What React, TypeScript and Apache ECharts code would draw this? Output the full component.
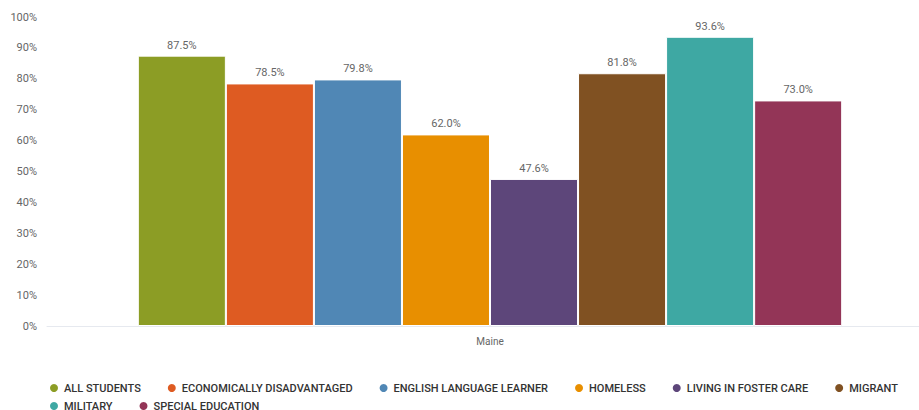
import React, { useEffect, useRef } from "react";
import * as echarts from "echarts";

const categories = ["Maine"];
const seriesNames = [
  "ALL STUDENTS",
  "ECONOMICALLY DISADVANTAGED",
  "ENGLISH LANGUAGE LEARNER",
  "HOMELESS",
  "LIVING IN FOSTER CARE",
  "MIGRANT",
  "MILITARY",
  "SPECIAL EDUCATION",
];
const seriesValues = [87.5, 78.5, 79.8, 62.0, 47.6, 81.8, 93.6, 73.0];
const seriesColors = [
  "#8c9d25",
  "#de5b22",
  "#5087b5",
  "#e88f00",
  "#5d467a",
  "#805122",
  "#3ea8a3",
  "#933557",
];

const FONT = "Roboto, 'Noto Sans', sans-serif";

export default function App() {
  const ref = useRef<HTMLDivElement>(null);
  useEffect(() => {
    if (!ref.current) return;
    const chart = echarts.init(ref.current, undefined, { renderer: "svg" });
    const legendText = { fontFamily: FONT, fontSize: 11, color: "#333", fontWeight: 500 };
    chart.setOption({
      animation: false,
      textStyle: { fontFamily: FONT },
      grid: { left: 47, top: 17, width: 886, height: 309, containLabel: false },
      legend: [
        {
          data: seriesNames.slice(0, 6),
          left: 43,
          top: 377,
          icon: "circle",
          itemWidth: 10,
          itemHeight: 10,
          itemGap: 25,
          textStyle: legendText,
        },
        {
          data: seriesNames.slice(6),
          left: 43,
          top: 395,
          icon: "circle",
          itemWidth: 10,
          itemHeight: 10,
          itemGap: 25,
          textStyle: legendText,
        },
      ],
      xAxis: {
        type: "category",
        data: categories,
        axisLine: { show: true, lineStyle: { color: "#e6e9ef", width: 1 } },
        axisTick: { show: false },
        axisLabel: { color: "#666", fontSize: 10, fontFamily: FONT, margin: 10 },
      },
      yAxis: {
        type: "value",
        min: 0,
        max: 100,
        interval: 10,
        splitLine: { show: false },
        axisLine: { show: false },
        axisTick: { show: false },
        axisLabel: { formatter: "{value}%", color: "#666", fontSize: 11, fontFamily: FONT, margin: 10 },
      },
      series: seriesNames.map((name, i) => ({
        name,
        type: "bar",
        data: [seriesValues[i]],
        barGap: "0%",
        barCategoryGap: "20.5%",
        itemStyle: { color: seriesColors[i], borderColor: "#ffffff", borderWidth: 1 },
        label: {
          show: true,
          position: "top",
          distance: 5,
          color: "#666",
          fontSize: 11,
          fontFamily: FONT,
          formatter: (p: any) => Number(p.value).toFixed(1) + "%",
        },
      })),
    });
    return () => chart.dispose();
  }, []);
  return (
    <div
      ref={ref}
      style={{ position: "fixed", left: 0, top: 0, width: 940, height: 410, background: "#fff" }}
    />
  );
}
